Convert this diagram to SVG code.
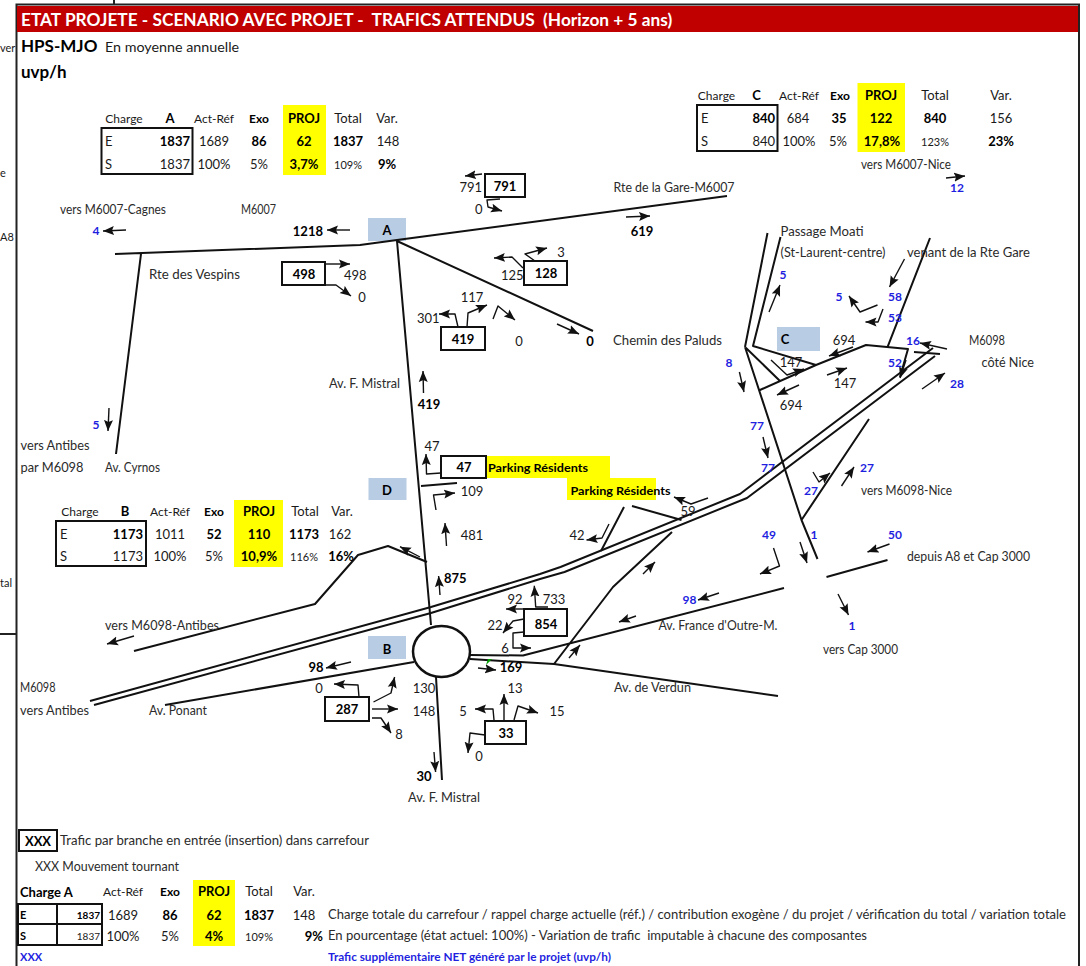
<svg xmlns="http://www.w3.org/2000/svg" width="1086" height="966" viewBox="0 0 1086 966">
<style>
text{font-family:Lato,"Liberation Sans",sans-serif;font-size:12px;fill:#1a1a1a}
.l{font-size:12.500px;fill:#2b2b2b}
.n{font-size:13px}
.b{font-weight:700;font-size:13px;fill:#000}
.h{font-size:13px}
.s{font-size:11px}
.u{fill:#1f1fe0;font-weight:700;font-size:12px}
.m{text-anchor:middle}
.e{text-anchor:end}
.y{fill:#ffff00}
.bl{fill:#b8cce4}
.box{fill:#fff;stroke:#111;stroke-width:2}
.road{fill:none;stroke:#111;stroke-width:2;stroke-linejoin:round}
.arr{fill:none;stroke:#111;stroke-width:1.400;marker-end:url(#ah);stroke-linejoin:round}
.fr{fill:none;stroke:#222;stroke-width:2}
</style>
<defs><marker id="ah" markerUnits="userSpaceOnUse" markerWidth="12" markerHeight="10" refX="11" refY="5" orient="auto"><path d="M0 0.500L11 5L0 9.500L2 5Z" fill="#111"/></marker></defs>
<rect width="1086" height="966" fill="#fff"/>
<g id="frame">
<path class="fr" d="M16.500 966V4.500H1079V966M114 0V4M0 634H16"/>
<rect x="17" y="6" width="1061" height="26" fill="#c00000"/>
<text x="21" y="26" style="font-size:17.300px;fill:#fff;font-weight:700" xml:space="preserve">ETAT PROJETE - SCENARIO AVEC PROJET -  TRAFICS ATTENDUS  (Horizon + 5 ans)</text>
<text x="0" y="52" class="s">ver</text><text x="0" y="177" class="s">e</text><text x="0" y="241" class="s">A8</text><text x="0" y="587" class="s">tal</text>
<text x="21" y="52" class="b" style="font-size:17px">HPS-MJO</text><text x="105" y="52" style="font-size:14.300px">En moyenne annuelle</text>
<text x="21" y="78" class="b" style="font-size:17px">uvp/h</text>
</g>
<g id="backgrounds">
<rect class="y" x="486" y="456" width="124" height="22"/><rect class="y" x="567" y="478" width="89" height="22"/>
</g>
<g id="carrefour-A"><rect class="bl" x="368" y="218" width="38" height="23"/><text class="b m" x="387" y="235">A</text></g>
<g id="carrefour-C"><rect class="bl" x="777" y="327" width="43" height="24"/><text class="b m" x="785" y="344">C</text></g>
<g id="carrefour-D"><rect class="bl" x="368.500" y="478" width="38" height="22"/><text class="b m" x="387" y="495">D</text></g>
<g id="connectors">
<path class="road" d="M115 254L360 245L397 240L727 196M141 254L116 454M397 241L431 625M397 241L593 331M421 486L457 483"/>
<path class="road" d="M134 651L315 604L358 555L388 546L427 562"/>
<path class="road" d="M90 701L431 607L540 574L560.500 567L740 494L933 348M94 705L431 613L540 579L564.500 572L747 498L935 356"/>
<path class="road" d="M165 705L414 662M436 677L442 780M470 655L523 655.500L784 588M470 659L554 664L778 696M554 664L613 587L672 532M624 507L601 551M632 506L681.500 520"/>
<path class="road" d="M745 347L801.500 520L817.500 559M801.500 520L869 419M826.500 577L887.500 560M767.500 233L745 347M780.500 237L753 346L816 365M745 347L780 381M760 390L816 365L866 345L908 349L900 377M887.700 346.700L930 238M914 352L940 354"/>
<path class="arr" d="M126 230L103 231"/><path class="arr" d="M350 230L327 230"/><path class="arr" d="M482 174L465 176"/>
<path class="arr" d="M500 199L487 200L488 207L502 211"/><path class="arr" d="M326 264L350 264"/><path class="arr" d="M326 285L336 285L351 296"/>
<path class="arr" d="M523 268L512 257L494 258"/><path class="arr" d="M535 261L525 254L547 248"/><path class="arr" d="M458 327L455 314L439 314"/>
<path class="arr" d="M467 327L468 313L487 305"/><path class="arr" d="M493 319L498 306L515 320"/><path class="arr" d="M557 324L579 334"/>
<path class="arr" d="M423.500 393L423 371"/><path class="arr" d="M441 473L426.500 474L426 454"/><path class="arr" d="M436 510L433.500 495L455 493"/>
<path class="arr" d="M446.500 546L445 523"/><path class="arr" d="M420 557L400 546.700"/><path class="arr" d="M440 595L438.600 576"/>
<path class="arr" d="M109 408L108 431"/><path class="arr" d="M134 636L107 644"/><path class="arr" d="M351 662L326 668"/>
<path class="arr" d="M359 697L358 685L334 684"/><path class="arr" d="M373.500 702L391 693L394.600 677"/><path class="arr" d="M372 709L398 709"/>
<path class="arr" d="M372 718L381 718L391 733"/><path class="arr" d="M434 752L435.600 772"/><path class="arr" d="M504 720L504 694"/>
<path class="arr" d="M494 720L493 709L475 709"/><path class="arr" d="M514 720L518 706L538 713"/><path class="arr" d="M485 735L470 733L468 753"/>
<path class="arr" d="M478 668L496 670"/><path class="arr" d="M548 607L535.700 607L534.300 585.700"/><path class="arr" d="M524 609L506 609"/>
<path class="arr" d="M524 619L513 621L503 633"/><path class="arr" d="M524 632L513 633L513 648L531 648"/><path class="arr" d="M569 658L580 645"/>
<path class="arr" d="M643 574L655 562"/><path class="arr" d="M719 593L698 600"/><path class="arr" d="M636 616L619 622"/>
<path class="arr" d="M609 524L602 538L586.500 540"/><path class="arr" d="M708 498L691 504L674 497"/><path class="arr" d="M763 437L768 458"/>
<path class="arr" d="M813 472L819 482L830 473"/><path class="arr" d="M841.500 486L854 467"/><path class="arr" d="M773.500 548L779.500 566L760 574"/>
<path class="arr" d="M800 542L807 563"/><path class="arr" d="M889.500 544L867.500 552"/><path class="arr" d="M838 594L848.500 615"/>
<path class="arr" d="M946 178L965 176"/><path class="arr" d="M626 217L650 216"/><path class="arr" d="M769 312L780 285"/>
<path class="arr" d="M904.500 259L889.500 287"/><path class="arr" d="M877.500 305L860 312L849 296"/><path class="arr" d="M883 309L878 322L865.500 322"/>
<path class="arr" d="M947 349L920 343"/><path class="arr" d="M906 360L900 378"/><path class="arr" d="M922 389L945 373"/>
<path class="arr" d="M853 347L829 356"/><path class="arr" d="M771 360L787 375L804 369"/><path class="arr" d="M827 375L847 368"/>
<path class="arr" d="M799 385L777 395"/><path class="arr" d="M739.400 372L744 392"/>
<path d="M486 665L488 659L492 659Z" fill="#00a000"/>
</g>
<g id="carrefour-B"><ellipse cx="441.500" cy="651.500" rx="28.500" ry="25.500" fill="#fff" stroke="#111" stroke-width="2.500"/><rect class="bl" x="368" y="636" width="38" height="23"/><text class="b m" x="387" y="654">B</text></g>
<g id="node-791"><rect class="box" x="485" y="174" width="40" height="23"/><text class="b m" x="505" y="191">791</text></g>
<g id="node-128"><rect class="box" x="524" y="261" width="43" height="24"/><text class="b m" x="546" y="278">128</text></g>
<g id="node-419"><rect class="box" x="441" y="327" width="44" height="23"/><text class="b m" x="463" y="344">419</text></g>
<g id="node-498"><rect class="box" x="282" y="262" width="43" height="23"/><text class="b m" x="304" y="279">498</text></g>
<g id="node-47"><rect class="box" x="441" y="456" width="45" height="22"/><text class="b m" x="464" y="472">47</text></g>
<g id="node-854"><rect class="box" x="524" y="609" width="43" height="27"/><text class="b m" x="546" y="629">854</text></g>
<g id="node-287"><rect class="box" x="325" y="697" width="44" height="24"/><text class="b m" x="347" y="714">287</text></g>
<g id="node-33"><rect class="box" x="485" y="721" width="41" height="23"/><text class="b m" x="506" y="738">33</text></g>
<g id="labels">
<text class="l" x="60" y="214" textLength="106" lengthAdjust="spacingAndGlyphs">vers M6007-Cagnes</text><text class="l" x="241" y="214" textLength="35" lengthAdjust="spacingAndGlyphs">M6007</text><text class="u m" x="96" y="235">4</text>
<text class="b e" x="323" y="236">1218</text><text class="n e" x="482" y="192">791</text><text class="n" x="475" y="214">0</text>
<text class="l" x="613.500" y="192" textLength="121" lengthAdjust="spacingAndGlyphs">Rte de la Gare-M6007</text><text class="b m" x="642" y="236">619</text><text class="l" x="149" y="279" textLength="91" lengthAdjust="spacingAndGlyphs">Rte des Vespins</text>
<text class="n" x="344" y="280">498</text><text class="n m" x="362" y="302">0</text><text class="n" x="501" y="280">125</text><text class="n m" x="561" y="257">3</text>
<text class="n m" x="472" y="302">117</text><text class="n" x="417" y="323">301</text><text class="n m" x="519" y="346">0</text><text class="b m" x="590" y="346">0</text>
<text class="l" x="613" y="345" textLength="109" lengthAdjust="spacingAndGlyphs">Chemin des Paluds</text><text class="l" x="329" y="388" textLength="71" lengthAdjust="spacingAndGlyphs">Av. F. Mistral</text><text class="b m" x="429" y="409">419</text>
<text class="n m" x="432" y="451">47</text><text class="b" x="488" y="472" style="font-size:12px" textLength="100" lengthAdjust="spacingAndGlyphs">Parking Résidents</text><text class="b" x="570.500" y="495" style="font-size:12px" textLength="100" lengthAdjust="spacingAndGlyphs">Parking Résidents</text>
<text class="n m" x="472" y="496">109</text><text class="n m" x="472" y="540">481</text><text class="b" x="444" y="583">875</text>
<text class="l" x="20.500" y="450" textLength="69" lengthAdjust="spacingAndGlyphs">vers Antibes</text><text class="l" x="20.500" y="472" textLength="63" lengthAdjust="spacingAndGlyphs">par M6098</text><text class="l" x="105" y="472" textLength="55" lengthAdjust="spacingAndGlyphs">Av. Cyrnos</text><text class="u m" x="96" y="429">5</text>
<text class="l" x="105" y="630" textLength="114" lengthAdjust="spacingAndGlyphs">vers M6098-Antibes</text><text class="n m" x="577" y="540">42</text><text class="n m" x="688" y="516">59</text>
<text class="n m" x="515" y="604">92</text><text class="n m" x="554" y="604">733</text><text class="n m" x="495" y="630">22</text><text class="n m" x="505" y="653">6</text>
<text class="b m" x="511" y="672">169</text><text class="u m" x="689.500" y="604">98</text><text class="b m" x="316" y="672">98</text>
<text class="l" x="20" y="692" textLength="35.500" lengthAdjust="spacingAndGlyphs">M6098</text><text class="l" x="20" y="715" textLength="69" lengthAdjust="spacingAndGlyphs">vers Antibes</text><text class="l" x="149" y="715" textLength="58" lengthAdjust="spacingAndGlyphs">Av. Ponant</text>
<text class="n m" x="319" y="693">0</text><text class="n m" x="424" y="693">130</text><text class="n m" x="515" y="693">13</text><text class="l" x="614" y="692" textLength="77" lengthAdjust="spacingAndGlyphs">Av. de Verdun</text>
<text class="n m" x="424" y="716">148</text><text class="n m" x="463" y="716">5</text><text class="n m" x="557" y="716">15</text><text class="n m" x="399" y="739">8</text><text class="n m" x="479" y="761">0</text>
<text class="b m" x="424" y="781">30</text><text class="l" x="408" y="802" textLength="72" lengthAdjust="spacingAndGlyphs">Av. F. Mistral</text>
<text class="l" x="658.500" y="630" textLength="119" lengthAdjust="spacingAndGlyphs">Av. France d'Outre-M.</text><text class="u m" x="852" y="630">1</text><text class="l" x="823" y="654" textLength="75" lengthAdjust="spacingAndGlyphs">vers Cap 3000</text>
<text class="u m" x="769" y="539">49</text><text class="u m" x="814" y="539">1</text><text class="u m" x="895" y="539">50</text><text class="l" x="907" y="561" textLength="123" lengthAdjust="spacingAndGlyphs">depuis A8 et Cap 3000</text>
<text class="u m" x="757" y="430">77</text><text class="u m" x="768" y="472">77</text><text class="u m" x="811" y="495">27</text><text class="u m" x="867" y="472">27</text><text class="l" x="861" y="495" textLength="91" lengthAdjust="spacingAndGlyphs">vers M6098-Nice</text>
<text class="n m" x="844" y="345">694</text><text class="n m" x="791" y="367">147</text><text class="n m" x="845" y="388">147</text><text class="n m" x="791" y="410">694</text>
<text class="u m" x="729" y="367">8</text><text class="u m" x="783" y="279">5</text><text class="u m" x="839" y="301">5</text><text class="u m" x="895" y="301">58</text><text class="u m" x="895" y="322">53</text>
<text class="u m" x="913" y="345">16</text><text class="u m" x="895" y="367">52</text><text class="u m" x="957" y="388">28</text>
<text class="l" x="969" y="345" textLength="36" lengthAdjust="spacingAndGlyphs">M6098</text><text class="l" x="981.500" y="367" textLength="52.500" lengthAdjust="spacingAndGlyphs">côté Nice</text><text class="l" x="780.500" y="236" textLength="83" lengthAdjust="spacingAndGlyphs">Passage Moati</text><text class="l" x="780.500" y="257" textLength="105" lengthAdjust="spacingAndGlyphs">(St-Laurent-centre)</text><text class="l" x="907" y="257" textLength="123" lengthAdjust="spacingAndGlyphs">venant de la Rte Gare</text>
<text class="l" x="861" y="169" textLength="90" lengthAdjust="spacingAndGlyphs">vers M6007-Nice</text><text class="u m" x="957" y="192">12</text>
</g>
<g id="table-A">
<rect class="y" x="283" y="105" width="43" height="70"/><rect x="101.500" y="128" width="91" height="46" fill="none" stroke="#111" stroke-width="2"/>
<text class="m" x="124" y="123">Charge</text><text class="b m" x="170" y="123">A</text><text class="m" x="214" y="123">Act-Réf</text><text class="b m" style="font-size:12px" x="259" y="123">Exo</text><text class="b m" x="304" y="123">PROJ</text><text class="h m" x="348" y="123">Total</text><text class="h m" x="387" y="123">Var.</text>
<text class="h" x="105" y="146">E</text><text class="b e" x="190" y="146">1837</text><text class="n m" x="214" y="146">1689</text><text class="b m" x="259" y="146">86</text><text class="b m" x="304" y="146">62</text><text class="b m" x="348" y="146">1837</text><text class="n m" x="388" y="146">148</text>
<text class="h" x="105" y="169">S</text><text class="n e" x="190" y="169">1837</text><text class="n m" x="214" y="169">100%</text><text class="n m" x="259" y="169">5%</text><text class="b m" x="304" y="169">3,7%</text><text class="s m" x="348" y="169">109%</text><text class="b m" x="387" y="169">9%</text>
</g>
<g id="table-C">
<rect class="y" x="857.500" y="83" width="47.500" height="69"/><rect x="697" y="105" width="80.500" height="46" fill="none" stroke="#111" stroke-width="2"/>
<text class="m" x="716.500" y="100">Charge</text><text class="b m" x="756.500" y="100">C</text><text class="m" x="799" y="100">Act-Réf</text><text class="b m" style="font-size:12px" x="840" y="100">Exo</text><text class="b m" x="881" y="100">PROJ</text><text class="h m" x="935" y="100">Total</text><text class="h m" x="1001" y="100">Var.</text>
<text class="h" x="701" y="123">E</text><text class="b e" x="775" y="123">840</text><text class="n m" x="798" y="123">684</text><text class="b m" x="839" y="123">35</text><text class="b m" x="881" y="123">122</text><text class="b m" x="935" y="123">840</text><text class="n m" x="1001" y="123">156</text>
<text class="h" x="701" y="146">S</text><text class="n e" x="775" y="146">840</text><text class="n m" x="799" y="146">100%</text><text class="n m" x="838" y="146">5%</text><text class="b m" x="882" y="146">17,8%</text><text class="s m" x="935" y="146">123%</text><text class="b m" x="1001" y="146">23%</text>
</g>
<g id="table-B">
<rect class="y" x="234" y="500" width="49" height="67"/><rect x="56" y="521" width="90" height="45" fill="none" stroke="#111" stroke-width="2"/>
<text class="m" x="80" y="516">Charge</text><text class="b m" x="125" y="516">B</text><text class="m" x="170" y="516">Act-Réf</text><text class="b m" style="font-size:12px" x="214" y="516">Exo</text><text class="b m" x="259" y="516">PROJ</text><text class="h m" x="305" y="516">Total</text><text class="h m" x="342" y="516">Var.</text>
<text class="h" x="60" y="539">E</text><text class="b e" x="143" y="539">1173</text><text class="n m" x="170" y="539">1011</text><text class="b m" x="214" y="539">52</text><text class="b m" x="259" y="539">110</text><text class="b m" x="304" y="539">1173</text><text class="n m" x="340" y="539">162</text>
<text class="h" x="60" y="561">S</text><text class="n e" x="143" y="561">1173</text><text class="n m" x="170" y="561">100%</text><text class="n m" x="214" y="561">5%</text><text class="b m" x="259" y="561">10,9%</text><text class="s m" x="304" y="561">116%</text><text class="b m" x="341" y="561">16%</text>
</g>
<g id="legend">
<rect class="box" x="19" y="830" width="38" height="21"/><text class="b m" x="38" y="846">XXX</text><text class="l" x="60" y="845" textLength="309" lengthAdjust="spacingAndGlyphs">Trafic par branche en entrée (insertion) dans carrefour</text>
<text class="l" x="35" y="871" textLength="144" lengthAdjust="spacingAndGlyphs">XXX Mouvement tournant</text>
<rect class="y" x="193" y="880" width="42" height="66"/>
<path d="M18 904H102V945H18ZM57 904V945M18 924H102" fill="none" stroke="#111" stroke-width="2"/>
<text class="b" x="20" y="897">Charge A</text><text class="m" x="123" y="896">Act-Réf</text><text class="b m" style="font-size:12px" x="170" y="896">Exo</text><text class="b m" x="214" y="896">PROJ</text><text class="h m" x="259" y="896">Total</text><text class="h m" x="304" y="896">Var.</text>
<text class="b" style="font-size:11px" x="20" y="919">E</text><text class="b e" style="font-size:10px" x="100" y="919">1837</text><text class="n m" x="123" y="920">1689</text><text class="b m" x="170" y="920">86</text><text class="b m" x="214" y="920">62</text><text class="b m" x="259" y="920">1837</text><text class="n m" x="304" y="920">148</text>
<text class="b" style="font-size:11px" x="20" y="940">S</text><text class="e" style="font-size:10px" x="100" y="940">1837</text><text class="n m" x="123" y="941">100%</text><text class="n m" x="170" y="941">5%</text><text class="b m" x="214" y="941">4%</text><text class="s m" x="259" y="941">109%</text><text class="b e" x="323" y="941">9%</text>
<text class="l" x="328" y="919" textLength="738" lengthAdjust="spacingAndGlyphs">Charge totale du carrefour / rappel charge actuelle (réf.) / contribution exogène / du projet / vérification du total / variation totale</text>
<text class="l" x="328" y="940" xml:space="preserve" textLength="539" lengthAdjust="spacingAndGlyphs">En pourcentage (état actuel: 100%) - Variation de trafic  imputable à chacune des composantes</text>
<text class="u" x="20" y="961" style="font-size:11px">XXX</text><text class="u" x="328" y="961" style="font-size:11px" textLength="283" lengthAdjust="spacingAndGlyphs">Trafic supplémentaire NET généré par le projet (uvp/h)</text>
</g>
</svg>
